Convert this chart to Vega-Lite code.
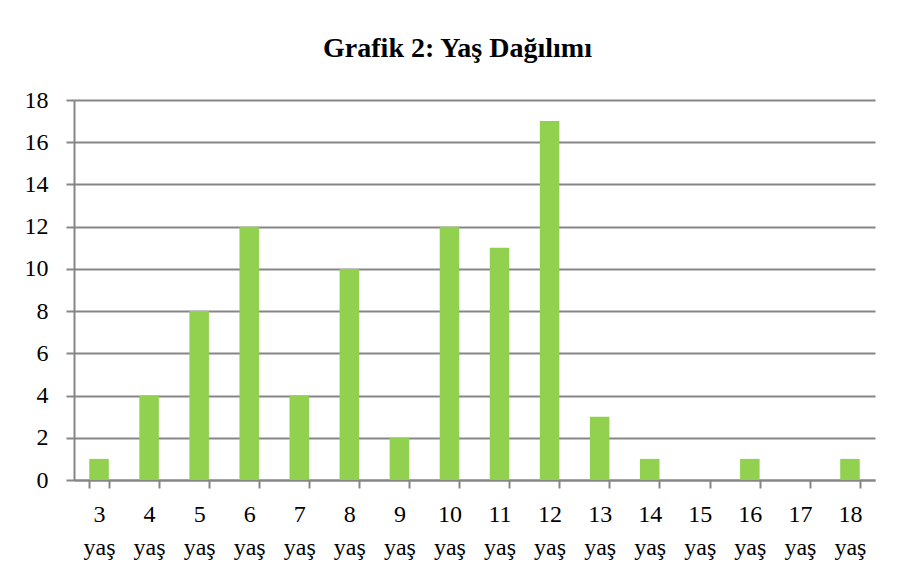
{
  "$schema": "https://vega.github.io/schema/vega-lite/v6.json",
  "autosize": "none",
  "width": 801,
  "height": 380,
  "padding": {"left": 74, "top": 100, "right": 28, "bottom": 100},
  "background": "white",
  "title": {
    "text": "Grafik 2: Yaş Dağılımı",
    "font": "Liberation Serif",
    "fontSize": 28,
    "fontWeight": "bold",
    "color": "black",
    "anchor": "middle",
    "dx": -17,
    "offset": 25
  },
  "data": {
    "values": [
      {"yas": "3 yaş", "n": 1},
      {"yas": "4 yaş", "n": 4},
      {"yas": "5 yaş", "n": 8},
      {"yas": "6 yaş", "n": 12},
      {"yas": "7 yaş", "n": 4},
      {"yas": "8 yaş", "n": 10},
      {"yas": "9 yaş", "n": 2},
      {"yas": "10 yaş", "n": 12},
      {"yas": "11 yaş", "n": 11},
      {"yas": "12 yaş", "n": 17},
      {"yas": "13 yaş", "n": 3},
      {"yas": "14 yaş", "n": 1},
      {"yas": "15 yaş", "n": 0},
      {"yas": "16 yaş", "n": 1},
      {"yas": "17 yaş", "n": 0},
      {"yas": "18 yaş", "n": 1}
    ]
  },
  "mark": {"type": "bar", "color": "#92D050"},
  "encoding": {
    "x": {
      "field": "yas",
      "type": "nominal",
      "sort": null,
      "scale": {"paddingInner": 0.61, "paddingOuter": 0.305},
      "axis": {
        "title": null,
        "labelAngle": 0,
        "labelExpr": "split(datum.label, ' ')",
        "labelLineHeight": 33,
        "labelFont": "Liberation Serif",
        "labelFontSize": 24,
        "labelColor": "black",
        "labelPadding": 14,
        "labelBaseline": "top",
        "tickBand": "extent",
        "tickSize": 8,
        "tickColor": "#868686",
        "tickWidth": 2,
        "domainColor": "#868686",
        "domainWidth": 2,
        "grid": false
      }
    },
    "y": {
      "field": "n",
      "type": "quantitative",
      "scale": {"domain": [0, 18], "nice": false},
      "axis": {
        "title": null,
        "values": [0, 2, 4, 6, 8, 10, 12, 14, 16, 18],
        "labelFont": "Liberation Serif",
        "labelFontSize": 24,
        "labelColor": "black",
        "labelPadding": 18,
        "tickSize": 8,
        "tickColor": "#868686",
        "tickWidth": 2,
        "domainColor": "#868686",
        "domainWidth": 2,
        "grid": true,
        "gridColor": "#868686",
        "gridWidth": 2,
        "gridOpacity": 1
      }
    }
  },
  "config": {
    "font": "Liberation Serif",
    "axis": {"labelFont": "Liberation Serif"},
    "view": {"stroke": null}
  }
}
